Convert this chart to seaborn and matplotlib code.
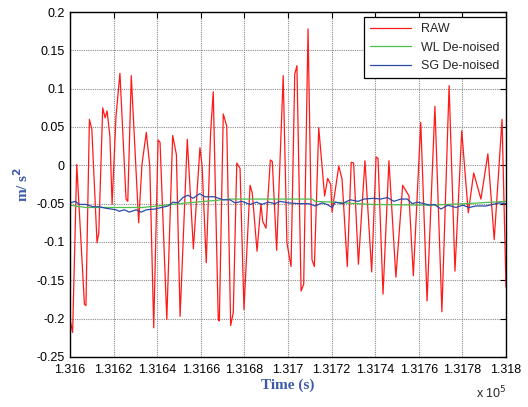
import matplotlib
matplotlib.use("Agg")
import matplotlib.pyplot as plt
import seaborn as sns

# RAW signal (time in s, acceleration in m/s^2)
raw_t = [131600.0, 131601.2, 131603.1, 131606.6, 131607.3, 131608.9, 131610.0, 131612.4,
         131613.2, 131615.0, 131616.1, 131617.0, 131618.3, 131619.3, 131621.1, 131622.9,
         131625.7, 131626.5, 131628.1, 131631.5, 131633.0, 131635.0, 131636.6, 131638.4,
         131640.4, 131641.3, 131644.4, 131647.1, 131648.8, 131650.5, 131653.8, 131656.6,
         131659.6, 131660.6, 131662.5, 131664.5, 131665.7, 131668.0, 131668.5, 131670.3,
         131671.9, 131673.7, 131674.9, 131676.5, 131678.0, 131679.8, 131682.6, 131683.6,
         131685.8, 131687.6, 131688.4, 131689.9, 131691.9, 131692.8, 131694.8, 131697.8,
         131699.5, 131701.4, 131703.1, 131704.1, 131706.0, 131707.2, 131709.2, 131711.0,
         131712.1, 131714.1, 131716.8, 131718.2, 131719.6, 131720.2, 131723.3, 131724.8,
         131727.2, 131729.0, 131730.1, 131732.3, 131735.3, 131738.4, 131740.4, 131741.3,
         131743.6, 131746.3, 131749.5, 131752.6, 131754.7, 131755.5, 131757.5, 131760.9,
         131763.8, 131767.4, 131770.6, 131773.9, 131776.6, 131779.7, 131782.7, 131785.2,
         131788.5, 131791.7, 131794.6, 131798.2, 131800.0]
raw_v = [-0.201, -0.218, 0.001, -0.181, -0.183, 0.060, 0.047, -0.101,
         -0.088, 0.075, 0.062, 0.071, 0.038, -0.051, 0.064, 0.120,
         -0.044, -0.047, 0.117, -0.075, 0.001, 0.043, -0.001, -0.212,
         0.033, 0.030, -0.201, 0.039, 0.014, -0.197, 0.034, -0.109,
         0.023, -0.001, -0.127, 0.043, 0.096, -0.201, -0.203, 0.067,
         0.051, -0.209, -0.192, 0.003, -0.004, -0.188, -0.026, -0.036,
         -0.112, -0.050, -0.073, -0.082, 0.007, 0.005, -0.111, 0.117,
         -0.101, -0.132, 0.119, 0.130, -0.164, -0.155, 0.178, -0.123,
         -0.132, 0.049, -0.040, -0.017, -0.025, -0.061, -0.001, -0.018,
         -0.132, 0.004, 0.003, -0.129, 0.006, -0.139, 0.011, 0.009,
         -0.168, 0.006, -0.146, -0.026, -0.036, -0.040, -0.144, 0.056,
         -0.177, 0.077, -0.191, 0.104, -0.138, 0.045, -0.062, -0.010,
         -0.044, 0.015, -0.097, 0.060, -0.159]

# wavelet de-noised
wl_t = [131600.0, 131607.3, 131619.6, 131633.0, 131640.4, 131646.5, 131654.1, 131661.8,
        131666.1, 131673.4, 131711.0, 131712.5, 131720.2, 131732.1, 131737.9, 131765.1,
        131781.7, 131800.0]
wl_v = [-0.052, -0.055, -0.055, -0.055, -0.053, -0.051, -0.049, -0.047,
        -0.046, -0.044, -0.044, -0.047, -0.048, -0.050, -0.051, -0.052,
        -0.050, -0.047]

# Savitzky-Golay de-noised
sg_t = [131600.0, 131602.4, 131604.3, 131607.3, 131610.4, 131613.4, 131616.5, 131621.1,
        131622.6, 131624.9, 131627.2, 131630.3, 131632.7, 131635.0, 131638.9, 131641.9,
        131645.0, 131647.2, 131649.5, 131651.8, 131654.1, 131656.4, 131659.5, 131661.8,
        131666.1, 131670.3, 131673.4, 131675.7, 131678.8, 131682.6, 131685.6, 131687.9,
        131691.0, 131694.0, 131696.3, 131700.3, 131704.9, 131709.5, 131712.5, 131715.6,
        131717.9, 131720.2, 131721.7, 131724.8, 131728.6, 131732.1, 131734.9, 131739.4,
        131742.5, 131745.6, 131748.6, 131751.7, 131754.7, 131757.0, 131759.3, 131762.4,
        131765.1, 131767.1, 131770.2, 131773.3, 131777.1, 131780.1, 131783.2, 131786.2,
        131790.8, 131793.9, 131796.9, 131800.0]
sg_v = [-0.049, -0.047, -0.051, -0.051, -0.054, -0.054, -0.056, -0.058,
        -0.060, -0.058, -0.061, -0.058, -0.061, -0.058, -0.057, -0.055,
        -0.053, -0.048, -0.049, -0.042, -0.039, -0.043, -0.037, -0.041,
        -0.041, -0.045, -0.045, -0.049, -0.047, -0.051, -0.048, -0.051,
        -0.048, -0.050, -0.047, -0.049, -0.050, -0.050, -0.053, -0.049,
        -0.051, -0.055, -0.048, -0.050, -0.045, -0.047, -0.044, -0.043,
        -0.044, -0.042, -0.047, -0.044, -0.044, -0.050, -0.048, -0.050,
        -0.052, -0.051, -0.057, -0.052, -0.055, -0.052, -0.055, -0.053,
        -0.053, -0.051, -0.049, -0.050]

x_ticks = [131600, 131620, 131640, 131660, 131680, 131700, 131720, 131740, 131760, 131780, 131800]
x_labels = ["1.316", "1.3162", "1.3164", "1.3166", "1.3168", "1.317",
            "1.3172", "1.3174", "1.3176", "1.3178", "1.318"]
y_ticks = [-0.25, -0.2, -0.15, -0.1, -0.05, 0, 0.05, 0.1, 0.15, 0.2]
y_labels = ["-0.25", "-0.2", "-0.15", "-0.1", "-0.05", "0", "0.05", "0.1", "0.15", "0.2"]

sns.set_style("white")
plt.rcParams["font.family"] = ["Liberation Sans", "DejaVu Sans"]

fig = plt.figure(figsize=(5.28, 4.07), dpi=100)
ax = fig.add_axes([0.1326, 0.1229, 0.8257, 0.8476])

sns.lineplot(x=raw_t, y=raw_v, color="#ff1a1a", lw=0.9, label="RAW", ax=ax, estimator=None)
sns.lineplot(x=wl_t, y=wl_v, color="#4cbf4c", lw=0.9, label="WL De-noised", ax=ax, estimator=None)
sns.lineplot(x=sg_t, y=sg_v, color="#2b4aa6", lw=0.9, label="SG De-noised", ax=ax, estimator=None)

ax.set_xlim(131600, 131800)
ax.set_ylim(-0.25, 0.2)
ax.set_xticks(x_ticks)
ax.set_xticklabels(x_labels)
ax.set_yticks(y_ticks)
ax.set_yticklabels(y_labels)
ax.tick_params(direction="in", length=4, width=0.8, labelsize=9, colors="black",
               top=True, right=True)
ax.tick_params(axis="x", pad=5)
ax.tick_params(axis="y", pad=4)
ax.grid(True, color="#8a8a8a", linestyle=(0, (1, 1)), linewidth=0.8)
for s in ax.spines.values():
    s.set_color("black")
    s.set_linewidth(1.0)

lab = dict(family=["Liberation Serif", "DejaVu Serif"], fontweight="bold", color="#3c5aa8", fontsize=11)
ax.set_xlabel("Time (s)", labelpad=2, **lab)
ax.set_ylabel("m/ s$^\\mathbf{2}$", labelpad=4, **lab)
fig.text(0.902, 0.015, "x 10$^5$", fontsize=9, ha="left", va="bottom")

leg = ax.legend(loc="upper right", bbox_to_anchor=(1.0, 0.985), fontsize=9, frameon=True,
                fancybox=False, framealpha=1, borderaxespad=0, handlelength=3.3,
                labelspacing=0.5, borderpad=0.5)
leg.get_frame().set_edgecolor("black")
leg.get_frame().set_linewidth(0.9)

fig.savefig("out.png", dpi=100)
